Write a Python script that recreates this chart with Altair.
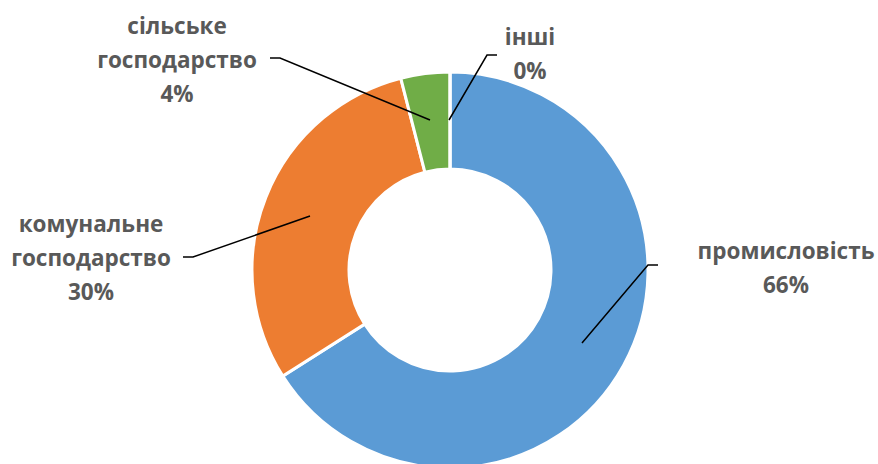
import altair as alt
import pandas as pd

# Data
categories = ["промисловість", "комунальне господарство", "сільське господарство", "інші"]
values = [66, 30, 4, 0]
colors = ["#5B9BD5", "#ED7D31", "#70AD47", "#A5A5A5"]
label_lines = [
    "промисловість\n66%",
    "комунальне\nгосподарство\n30%",
    "сільське\nгосподарство\n4%",
    "інші\n0%",
]
# label anchor positions, first text line (chart units, donut centre = 0,0; outer radius = 198)
label_x = [336, -359, -273, 80]
label_y = [18, 45, 243, 232]
# leader lines: (category, point order, x, y)
leader_cat = ["промисловість"] * 3 + ["комунальне господарство"] * 3 + ["сільське господарство"] * 3 + ["інші"] * 3
leader_ord = [0, 1, 2] * 4
leader_x = [132, 198, 208, -140, -257, -267, -20, -170, -180, -1, 37, 47]
leader_y = [-73, 5, 5, 54, 13, 13, 150, 212, 212, 150, 215, 215]

W, H = 878, 464
XDOM = [-450, 428]
YDOM = [-194, 270]

df = pd.DataFrame({"cat": categories, "value": values, "ord": list(range(len(categories)))})
lab = pd.DataFrame({"cat": categories, "text": label_lines, "x": label_x, "y": label_y})
lead = pd.DataFrame({"cat": leader_cat, "o": leader_ord, "x": leader_x, "y": leader_y})

xs = alt.Scale(domain=XDOM, nice=False, zero=False)
ys = alt.Scale(domain=YDOM, nice=False, zero=False)

arc = alt.Chart(df).mark_arc(innerRadius=101, outerRadius=198, stroke="white", strokeWidth=3).encode(
    theta=alt.Theta("value:Q", stack=True),
    color=alt.Color("cat:N", scale=alt.Scale(domain=categories, range=colors), legend=None),
    order=alt.Order("ord:Q"),
    x=alt.datum(0, scale=xs, axis=None),
    y=alt.datum(0, scale=ys, axis=None),
)

lines = alt.Chart(lead).mark_line(color="black", strokeWidth=1.5).encode(
    x=alt.X("x:Q", scale=xs, axis=None),
    y=alt.Y("y:Q", scale=ys, axis=None),
    detail="cat:N",
    order="o:Q",
)

texts = alt.Chart(lab).transform_calculate(
    lines_="split(datum.text, '\\n')"
).mark_text(
    font="Open Sans", fontSize=22.5, fontWeight="bold", color="#595959",
    align="center", baseline="middle", lineHeight=34,
).encode(
    x=alt.X("x:Q", scale=xs, axis=None),
    y=alt.Y("y:Q", scale=ys, axis=None),
    text="lines_:N",
)

chart = alt.layer(arc, lines, texts).properties(
    width=W, height=H, padding=0, autosize=alt.AutoSizeParams(type="none")
).configure_view(stroke=None)

chart.save("out.html", embed_options={"renderer": "svg", "actions": False})
